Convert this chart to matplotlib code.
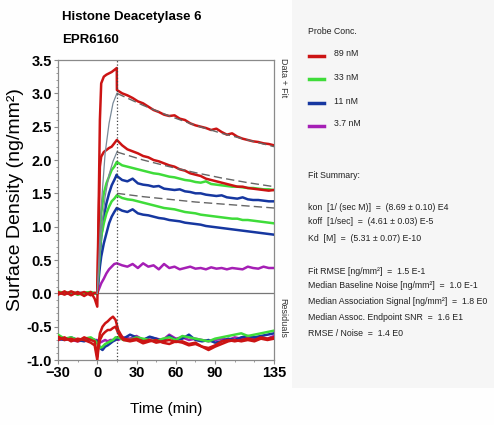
import numpy as np
import matplotlib.pyplot as plt
from matplotlib.patches import Rectangle
from matplotlib.lines import Line2D

FONT = ['Liberation Sans', 'DejaVu Sans']

# time grids (min)
t_base = [-30, -25, -20, -15, -10, -5, -2]
t_assoc = [0, 1, 2, 3, 5, 7, 9, 11, 13, 14.9]
t_diss = list(range(15, 136, 4))

# sensorgram data (ng/mm2): baseline, association, dissociation
red1_base = [0.02, -0.02, 0.03, -0.01, 0.02, -0.03, 0.01]
red1_assoc = [0.0, 1.2, 2.6, 3.15, 3.25, 3.28, 3.3, 3.32, 3.35, 3.38]
red1_diss = [3.05, 3.0, 2.97, 2.93, 2.88, 2.85, 2.8, 2.75, 2.72, 2.68, 2.66, 2.67, 2.62, 2.6, 2.55, 2.52,
             2.5, 2.48, 2.45, 2.47, 2.42, 2.38, 2.4, 2.35, 2.32, 2.3, 2.28, 2.27, 2.25, 2.24, 2.22]
red2_base = [-0.02, 0.03, -0.03, 0.02, -0.04, 0.02, -0.08]
red2_assoc = [-0.2, 1.0, 1.9, 2.05, 2.12, 2.15, 2.18, 2.2, 2.25, 2.3]
red2_diss = [2.3, 2.22, 2.16, 2.13, 2.1, 2.06, 2.04, 2.0, 1.98, 1.95, 1.92, 1.9, 1.86, 1.84, 1.8, 1.78,
             1.76, 1.72, 1.7, 1.68, 1.66, 1.64, 1.62, 1.6, 1.6, 1.58, 1.57, 1.56, 1.55, 1.54, 1.55]
green1_base = [0.03, 0.0, 0.02, -0.02, 0.01, 0.02, 0.0]
green1_assoc = [0.0, 0.5, 0.9, 1.2, 1.5, 1.65, 1.75, 1.85, 1.9, 1.97]
green1_diss = [1.97, 1.92, 1.9, 1.88, 1.86, 1.84, 1.82, 1.8, 1.79, 1.77, 1.75, 1.74, 1.72, 1.7, 1.69, 1.67,
               1.66, 1.68, 1.64, 1.63, 1.62, 1.61, 1.6, 1.6, 1.59, 1.58, 1.58, 1.57, 1.56, 1.56, 1.55]
blue1_base = [0.0, 0.01, -0.01, 0.01, 0.0, -0.01, 0.0]
blue1_assoc = [0.0, 0.3, 0.6, 0.85, 1.15, 1.35, 1.5, 1.62, 1.7, 1.78]
blue1_diss = [1.76, 1.7, 1.68, 1.72, 1.65, 1.63, 1.62, 1.6, 1.61, 1.57, 1.56, 1.55, 1.56, 1.53, 1.52, 1.5,
              1.5, 1.48, 1.47, 1.46, 1.47, 1.44, 1.43, 1.42, 1.44, 1.41, 1.4, 1.4, 1.39, 1.38, 1.38]
green2_base = [0.01, -0.01, 0.02, 0.0, -0.02, 0.01, 0.0]
green2_assoc = [0.0, 0.35, 0.65, 0.85, 1.05, 1.2, 1.3, 1.38, 1.42, 1.47]
green2_diss = [1.47, 1.43, 1.41, 1.4, 1.38, 1.36, 1.34, 1.32, 1.3, 1.28, 1.27, 1.26, 1.24, 1.22, 1.21, 1.2,
               1.18, 1.17, 1.16, 1.15, 1.14, 1.13, 1.12, 1.12, 1.1, 1.1, 1.09, 1.08, 1.07, 1.06, 1.05]
blue2_base = [0.0, 0.0, 0.01, -0.01, 0.0, 0.01, 0.0]
blue2_assoc = [0.0, 0.2, 0.4, 0.55, 0.75, 0.9, 1.05, 1.15, 1.22, 1.28]
blue2_diss = [1.28, 1.24, 1.22, 1.26, 1.2, 1.18, 1.17, 1.15, 1.13, 1.12, 1.1, 1.09, 1.08, 1.06, 1.05, 1.04,
              1.03, 1.01, 1.0, 0.99, 0.98, 0.97, 0.96, 0.95, 0.94, 0.93, 0.92, 0.91, 0.9, 0.89, 0.88]
purple_base = [0.0, 0.01, 0.0, -0.01, 0.0, 0.0, 0.0]
purple_assoc = [0.0, 0.05, 0.1, 0.15, 0.22, 0.3, 0.36, 0.4, 0.44, 0.45]
purple_diss = [0.45, 0.42, 0.4, 0.44, 0.38, 0.45, 0.4, 0.42, 0.36, 0.44, 0.38, 0.4, 0.36, 0.38, 0.4, 0.37,
               0.38, 0.36, 0.39, 0.37, 0.38, 0.36, 0.38, 0.37, 0.36, 0.4, 0.38, 0.37, 0.4, 0.38, 0.38]

# fitted curves
fit_t_assoc = [0, 3, 6, 9, 12, 15]
fit_t_diss = [15, 35, 55, 75, 95, 115, 135]
fit1_assoc = [0, 1.3, 2.1, 2.55, 2.85, 3.0]
fit1_diss = [3.0, 2.82, 2.66, 2.52, 2.4, 2.3, 2.2]
fit2_assoc = [0, 0.9, 1.45, 1.78, 1.98, 2.12]
fit2_diss = [2.12, 2.0, 1.9, 1.81, 1.73, 1.66, 1.6]
fit3_diss = [1.5, 1.45, 1.41, 1.37, 1.34, 1.31, 1.28]

# residuals (offset to -0.7)
t_res = [-30, -25, -20, -15, -10, -5, -2, 0, 1, 2, 4, 6, 8, 10, 12, 14, 16, 18, 20] + list(range(25, 136, 5))
res_red_a = [-0.65, -0.7, -0.68, -0.72, -0.66, -0.7, -0.72, -0.95, -0.75, -0.6, -0.5, -0.45, -0.42, -0.38,
             -0.35, -0.4, -0.55, -0.62, -0.68, -0.7, -0.68, -0.72, -0.7, -0.74, -0.72, -0.7, -0.73, -0.72,
             -0.76, -0.74, -0.8, -0.82, -0.78, -0.72, -0.7, -0.72, -0.7, -0.68, -0.7, -0.66, -0.68, -0.66]
res_red_b = [-0.7, -0.66, -0.72, -0.68, -0.7, -0.74, -0.78, -1.0, -0.8, -0.7, -0.62, -0.58, -0.55, -0.55,
             -0.52, -0.5, -0.6, -0.66, -0.7, -0.72, -0.7, -0.75, -0.72, -0.7, -0.74, -0.76, -0.72, -0.74,
             -0.78, -0.76, -0.8, -0.85, -0.8, -0.76, -0.72, -0.7, -0.72, -0.7, -0.72, -0.68, -0.7, -0.68]
res_green = [-0.62, -0.68, -0.66, -0.7, -0.68, -0.66, -0.7, -0.75, -0.8, -0.82, -0.8, -0.76, -0.74, -0.72,
             -0.7, -0.66, -0.66, -0.68, -0.7, -0.7, -0.66, -0.68, -0.7, -0.72, -0.68, -0.66, -0.7, -0.64,
             -0.66, -0.68, -0.7, -0.72, -0.68, -0.66, -0.64, -0.62, -0.6, -0.64, -0.62, -0.6, -0.58, -0.56]
res_blue = [-0.68, -0.7, -0.66, -0.7, -0.72, -0.68, -0.7, -0.72, -0.75, -0.82, -0.85, -0.8, -0.78, -0.75,
            -0.72, -0.7, -0.68, -0.66, -0.68, -0.62, -0.66, -0.7, -0.65, -0.68, -0.72, -0.64, -0.7, -0.68,
            -0.62, -0.7, -0.72, -0.7, -0.74, -0.72, -0.68, -0.7, -0.66, -0.64, -0.66, -0.64, -0.62, -0.6]
res_purple = [-0.7, -0.68, -0.7, -0.72, -0.7, -0.68, -0.7, -0.7, -0.72, -0.74, -0.72, -0.7, -0.72, -0.7,
              -0.7, -0.68, -0.7, -0.68, -0.66, -0.68, -0.64, -0.7, -0.66, -0.68, -0.7, -0.62, -0.68, -0.66,
              -0.7, -0.68, -0.7, -0.72, -0.7, -0.68, -0.7, -0.66, -0.68, -0.66, -0.68, -0.66, -0.68, -0.64]

conc_labels = ['89 nM', '33 nM', '11 nM', '3.7 nM']
RED, GREEN, BLUE, PURPLE = '#cc1414', '#3fdc3a', '#1637a0', '#a51fb5'
colors = [RED, GREEN, BLUE, PURPLE]

fig = plt.figure(figsize=(4.94, 4.25), dpi=100)
fig.patch.set_facecolor('#fefefe')
fig.add_artist(Rectangle((292 / 494, 1 - 388 / 425), 1 - 292 / 494, 388 / 425,
                         transform=fig.transFigure, facecolor='#f6f6f6', edgecolor='none', zorder=0))

ax = fig.add_axes([58 / 494, 1 - 360 / 425, 216 / 494, 300 / 425])
ax.set_facecolor('white')

t_full = t_base + t_assoc + t_diss
curves = [
    (purple_base, purple_assoc, purple_diss, PURPLE),
    (blue2_base, blue2_assoc, blue2_diss, BLUE),
    (blue1_base, blue1_assoc, blue1_diss, BLUE),
    (green2_base, green2_assoc, green2_diss, GREEN),
    (green1_base, green1_assoc, green1_diss, GREEN),
    (red2_base, red2_assoc, red2_diss, RED),
    (red1_base, red1_assoc, red1_diss, RED),
]
for b, a, d, c in curves:
    ax.plot(t_full, b + a + d, color=c, lw=1.8, zorder=3)

for res, c in [(res_purple, PURPLE), (res_blue, BLUE), (res_green, GREEN), (res_red_b, RED), (res_red_a, RED)]:
    ax.plot(t_res, res, color=c, lw=1.8, zorder=3)

ax.plot(fit_t_assoc, fit1_assoc, color='#7a8a99', lw=0.9, zorder=4)
ax.plot(fit_t_assoc, fit2_assoc, color='#7a8a99', lw=0.9, zorder=4)
ax.plot(fit_t_diss, fit1_diss, color='#666666', lw=1.0, ls=(0, (6, 3)), zorder=4)
ax.plot(fit_t_diss, fit2_diss, color='#666666', lw=1.0, ls=(0, (6, 3)), zorder=4)
ax.plot(fit_t_diss, fit3_diss, color='#666666', lw=1.0, ls=(0, (6, 3)), zorder=4)

ax.axhline(0, color='#777777', lw=0.9, zorder=2)
ax.axvline(15, color='#444444', lw=0.9, ls=':', zorder=5)

ax.set_xlim(-30, 135)
ax.set_ylim(-1.0, 3.5)
ax.set_xticks([-30, 0, 30, 60, 90, 135])
ax.set_xticks(np.arange(-15, 135, 15), minor=True)
ax.set_yticks(np.arange(-1.0, 3.51, 0.5))
ax.set_yticks(np.arange(-1.0, 3.51, 0.1), minor=True)
ax.set_yticklabels(['%.1f' % v for v in np.arange(-1.0, 3.51, 0.5)])
for s in ax.spines.values():
    s.set_color('#8a8a8a')
    s.set_linewidth(0.9)
ax.tick_params(which='major', direction='out', length=3, color='#8a8a8a', pad=1.5)
ax.tick_params(which='minor', direction='out', length=1.5, color='#8a8a8a')
for lab in ax.get_xticklabels() + ax.get_yticklabels():
    lab.set_fontfamily(FONT)
    lab.set_fontweight('bold')
    lab.set_fontsize(10.5)

ax.set_xlabel('Time (min)', family=FONT, fontsize=11, labelpad=16)
fig.text(16 / 494, 1 - 200 / 425, 'Surface Density (ng/mm²)', rotation=90, ha='center', va='center',
         family=FONT, fontsize=14)

fig.text(283 / 494, 1 - 58 / 425, 'Data + Fit', rotation=270, ha='center', va='top',
         family=FONT, fontsize=6.5, color='#333333')
fig.text(283 / 494, 1 - 298 / 425, 'Residuals', rotation=270, ha='center', va='top',
         family=FONT, fontsize=6.5, color='#333333')

fig.text(62 / 494, 1 - 17 / 425, 'Histone Deacetylase 6', family=FONT, fontweight='bold',
         fontsize=9.5, va='center', ha='left')
fig.text(62 / 494, 1 - 40 / 425, 'EPR6160', family=FONT, fontweight='bold',
         fontsize=9.5, va='center', ha='left')

# legend panel
fig.text(308 / 494, 1 - 32 / 425, 'Probe Conc.', family=FONT, fontsize=6.3, va='center', color='#222222')
leg_y = [54, 77, 101, 124]
for yy, lab, c in zip(leg_y, conc_labels, colors):
    fig.add_artist(Line2D([309 / 494, 324 / 494], [1 - (yy + 2) / 425] * 2, color=c, lw=2.5,
                          transform=fig.transFigure))
    fig.text(334 / 494, 1 - yy / 425, lab, family=FONT, fontsize=6.3, va='center', color='#222222')

summary = [
    (175, 'Fit Summary:'),
    (207, 'kon  [1/ (sec M)]  =  (8.69 ± 0.10) E4'),
    (222, 'koff  [1/sec]  =  (4.61 ± 0.03) E-5'),
    (238, 'Kd  [M]  =  (5.31 ± 0.07) E-10'),
    (271, 'Fit RMSE [ng/mm²]  =  1.5 E-1'),
    (286, 'Median Baseline Noise [ng/mm²]  =  1.0 E-1'),
    (302, 'Median Association Signal [ng/mm²]  =  1.8 E0'),
    (317, 'Median Assoc. Endpoint SNR  =  1.6 E1'),
    (333, 'RMSE / Noise  =  1.4 E0'),
]
for yy, txt in summary:
    fig.text(308 / 494, 1 - yy / 425, txt, family=FONT, fontsize=6.3, va='center', color='#222222')

plt.savefig('out.png', dpi=100)
